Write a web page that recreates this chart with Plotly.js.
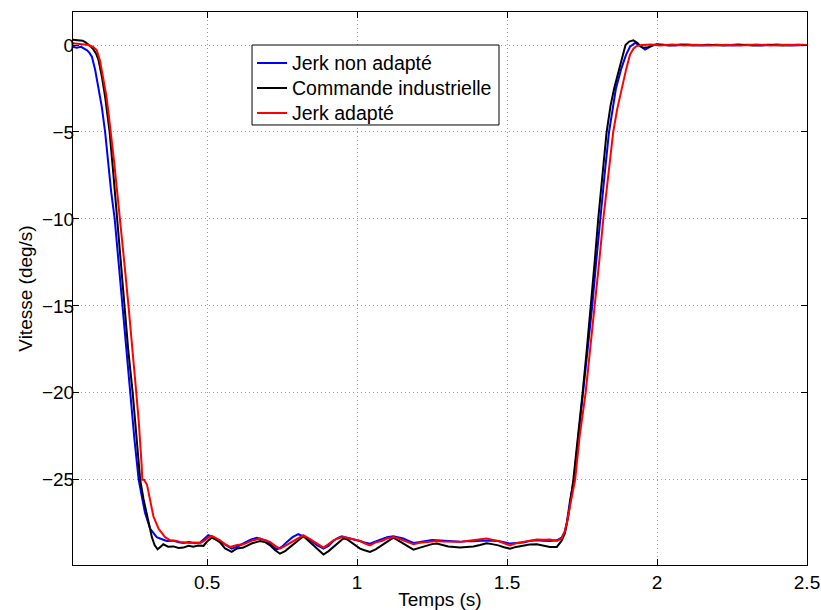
<!DOCTYPE html>
<html>
<head>
<meta charset="utf-8">
<script src="https://cdn.plot.ly/plotly-3.0.1.min.js"></script>
<style>html,body{margin:0;padding:0;background:#fff;}</style>
</head>
<body>
<div id="chart" style="width:821px;height:610px;"></div>
<script>
// Time (s) and speed (deg/s) samples
const tBlue = [
0.053,0.065,0.08,0.09,0.1,0.108,0.116,0.127,0.138,0.149,
0.16,0.17,0.18,0.192,0.204,0.217,0.23,0.243,0.258,0.272,
0.283,0.293,0.31,0.332,0.354,0.366,0.387,0.405,0.421,0.44,
0.46,0.477,0.49,0.504,0.52,0.538,0.56,0.582,0.6,0.621,
0.645,0.666,0.683,0.699,0.715,0.732,0.75,0.766,0.785,0.804,
0.822,0.843,0.865,0.888,0.905,0.921,0.935,0.949,0.966,0.99,
1.01,1.025,1.043,1.062,1.082,1.1,1.121,1.138,1.154,1.17,
1.188,1.21,1.232,1.25,1.266,1.285,1.304,1.325,1.343,1.365,
1.388,1.41,1.432,1.45,1.471,1.49,1.51,1.53,1.554,1.575,
1.599,1.62,1.643,1.666,1.682,1.692,1.699,1.71,1.723,1.738,
1.754,1.769,1.784,1.797,1.81,1.825,1.84,1.852,1.863,1.88,
1.897,1.91,1.927,1.94,1.96,1.975,1.988,2.02,2.06,2.1,
2.15,2.2,2.25,2.3,2.35,2.4,2.45,2.5];
const vBlue = [
-0.1,-0.15,-0.1,-0.2,-0.3,-0.45,-0.67,-1.44,-2.4,-3.55,
-5.0,-6.7,-8.4,-10.0,-12.4,-15.0,-17.5,-20.0,-22.7,-25.0,
-26.1,-26.9,-27.8,-28.3,-28.45,-28.52,-28.5,-28.6,-28.63,-28.58,
-28.65,-28.6,-28.4,-28.19,-28.3,-28.48,-28.75,-28.96,-28.85,-28.67,
-28.45,-28.33,-28.4,-28.5,-28.75,-29.01,-28.85,-28.57,-28.3,-28.13,
-28.25,-28.45,-28.75,-28.96,-28.8,-28.52,-28.35,-28.25,-28.33,-28.42,
-28.52,-28.6,-28.67,-28.55,-28.44,-28.3,-28.25,-28.3,-28.38,-28.5,
-28.63,-28.58,-28.52,-28.46,-28.48,-28.5,-28.52,-28.55,-28.57,-28.53,
-28.54,-28.5,-28.48,-28.5,-28.52,-28.6,-28.67,-28.63,-28.6,-28.52,
-28.48,-28.5,-28.52,-28.48,-28.33,-28.0,-27.5,-26.2,-25.0,-22.5,
-20.0,-17.5,-15.0,-12.5,-10.0,-7.5,-5.0,-3.6,-2.5,-1.4,
-0.55,-0.1,0.12,0.0,-0.26,-0.12,0.0,0.02,-0.03,0.03,
-0.02,0.02,-0.03,0.02,-0.02,0.03,-0.02,0.0];

const tBlack = [
0.053,0.07,0.085,0.095,0.104,0.113,0.121,0.13,0.138,0.149,
0.16,0.168,0.175,0.188,0.2,0.212,0.224,0.237,0.252,0.264,
0.277,0.288,0.299,0.308,0.316,0.325,0.335,0.345,0.354,0.37,
0.388,0.405,0.421,0.438,0.454,0.47,0.488,0.5,0.516,0.53,
0.543,0.56,0.582,0.6,0.621,0.65,0.677,0.695,0.71,0.727,
0.743,0.76,0.777,0.8,0.821,0.838,0.854,0.87,0.888,0.905,
0.921,0.94,0.954,0.966,0.99,1.01,1.025,1.043,1.062,1.082,
1.1,1.121,1.138,1.154,1.17,1.188,1.21,1.232,1.25,1.266,
1.285,1.304,1.325,1.343,1.365,1.388,1.41,1.432,1.45,1.471,
1.49,1.51,1.53,1.554,1.575,1.599,1.62,1.643,1.666,1.682,
1.693,1.705,1.721,1.737,1.752,1.766,1.78,1.792,1.804,1.818,
1.832,1.845,1.857,1.872,1.886,1.895,1.907,1.921,1.935,1.945,
1.954,1.97,1.988,2.0,2.04,2.08,2.12,2.17,2.22,2.27,
2.32,2.37,2.42,2.47,2.5];
const vBlack = [
0.3,0.28,0.25,0.15,0.05,-0.1,-0.25,-0.5,-0.86,-1.8,
-2.97,-4.0,-5.0,-7.5,-10.0,-12.5,-15.0,-17.5,-20.0,-22.5,
-25.0,-26.1,-26.9,-27.7,-28.3,-28.75,-29.0,-28.85,-28.71,-28.85,
-28.83,-28.92,-28.9,-28.8,-28.85,-28.78,-28.8,-28.55,-28.33,-28.45,
-28.6,-28.95,-29.15,-28.95,-28.9,-28.65,-28.52,-28.6,-28.77,-29.05,
-29.25,-29.1,-28.86,-28.5,-28.25,-28.5,-28.77,-29.05,-29.3,-29.1,
-28.86,-28.55,-28.38,-28.42,-28.7,-28.96,-29.05,-29.15,-29.0,-28.77,
-28.55,-28.33,-28.5,-28.67,-28.85,-29.02,-28.9,-28.77,-28.7,-28.67,
-28.75,-28.83,-28.86,-28.9,-28.86,-28.83,-28.75,-28.65,-28.7,-28.77,
-28.88,-28.96,-28.86,-28.77,-28.72,-28.71,-28.8,-28.86,-28.86,-28.5,
-28.07,-27.0,-25.0,-22.5,-20.0,-17.5,-15.0,-12.5,-10.0,-7.5,
-5.0,-3.5,-2.5,-1.5,-0.55,0.0,0.2,0.27,0.12,-0.08,
-0.16,-0.12,0.0,0.04,-0.02,0.03,-0.03,0.02,-0.02,0.03,
-0.02,0.02,-0.03,0.02,0.0];

const tRed = [
0.053,0.07,0.09,0.105,0.12,0.132,0.143,0.153,0.164,0.172,
0.179,0.19,0.2,0.21,0.224,0.238,0.252,0.264,0.272,0.278,
0.282,0.284,0.29,0.3,0.307,0.321,0.338,0.36,0.377,0.395,
0.41,0.43,0.443,0.46,0.477,0.493,0.505,0.516,0.53,0.543,
0.56,0.577,0.6,0.621,0.65,0.677,0.695,0.71,0.727,0.743,
0.76,0.777,0.8,0.821,0.838,0.854,0.87,0.888,0.905,0.921,
0.94,0.954,0.966,0.99,1.01,1.025,1.043,1.062,1.082,1.1,
1.121,1.138,1.154,1.17,1.188,1.21,1.232,1.25,1.266,1.285,
1.304,1.325,1.343,1.365,1.388,1.41,1.432,1.45,1.471,1.49,
1.51,1.53,1.554,1.575,1.599,1.62,1.643,1.666,1.682,1.692,
1.699,1.71,1.727,1.742,1.762,1.777,1.793,1.807,1.821,1.837,
1.854,1.867,1.882,1.897,1.91,1.922,1.932,1.95,1.98,2.01,
2.05,2.09,2.13,2.18,2.23,2.28,2.33,2.38,2.43,2.48,
2.5];
const vRed = [
0.1,0.08,0.05,0.0,-0.1,-0.29,-0.9,-1.8,-2.9,-4.0,
-5.0,-6.7,-8.4,-10.0,-12.5,-15.0,-17.5,-20.0,-21.6,-23.0,
-24.2,-25.0,-25.0,-25.3,-25.97,-27.1,-27.8,-28.3,-28.48,-28.5,
-28.57,-28.6,-28.63,-28.6,-28.63,-28.48,-28.3,-28.23,-28.35,-28.48,
-28.7,-28.86,-28.75,-28.71,-28.5,-28.38,-28.5,-28.57,-28.8,-28.96,
-28.8,-28.63,-28.35,-28.19,-28.35,-28.52,-28.7,-28.9,-28.7,-28.48,
-28.35,-28.29,-28.33,-28.45,-28.52,-28.65,-28.77,-28.6,-28.52,-28.38,
-28.29,-28.38,-28.48,-28.6,-28.71,-28.62,-28.57,-28.52,-28.52,-28.55,
-28.57,-28.55,-28.57,-28.52,-28.48,-28.42,-28.38,-28.45,-28.52,-28.65,
-28.77,-28.65,-28.57,-28.48,-28.44,-28.45,-28.44,-28.52,-28.38,-28.0,
-27.52,-26.5,-25.0,-22.5,-20.0,-17.5,-15.0,-12.5,-10.0,-7.5,
-5.0,-3.7,-2.5,-1.4,-0.55,-0.2,-0.06,0.0,0.03,-0.02,
0.03,-0.02,0.02,-0.03,0.02,-0.02,0.03,-0.02,0.02,-0.02,
0.0];

const seriesNames = ["Jerk non adapté", "Commande industrielle", "Jerk adapté"];
const seriesColors = ["#0000ff", "#000000", "#ff0000"];
const xTicks = [0.5, 1, 1.5, 2, 2.5];
const xTickText = ["0.5", "1", "1.5", "2", "2.5"];
const yTicks = [-25, -20, -15, -10, -5, 0];
const yTickText = ["\u221225", "\u221220", "\u221215", "\u221210", "\u22125", "0"];

const FONT = "Liberation Sans, Arial, Helvetica, sans-serif";
const tSeries = [tBlue, tBlack, tRed];
const vSeries = [vBlue, vBlack, vRed];

const traces = seriesNames.map((name, i) => ({
  x: tSeries[i], y: vSeries[i], name: name, type: "scatter", mode: "lines",
  line: {color: seriesColors[i], width: 2}
}));

// MATLAB-style boxed legend (paper coordinates)
const legBox = {x0: 0.2439, x1: 0.5804, y0: 0.7957, y1: 0.9403};
const legRowY = [0.9078, 0.8626, 0.8174];
const legLineX = [0.2507, 0.2916];
const legTextX = 0.2960;

const shapes = [{
  type: "rect", xref: "paper", yref: "paper",
  x0: legBox.x0, x1: legBox.x1, y0: legBox.y0, y1: legBox.y1,
  line: {color: "#000", width: 1}, fillcolor: "#fff", layer: "above"
}];
const annotations = [];
seriesNames.forEach((name, i) => {
  shapes.push({
    type: "line", xref: "paper", yref: "paper",
    x0: legLineX[0], x1: legLineX[1], y0: legRowY[i], y1: legRowY[i],
    line: {color: seriesColors[i], width: 2}, layer: "above"
  });
  annotations.push({
    xref: "paper", yref: "paper", x: legTextX, y: legRowY[i],
    xanchor: "left", yanchor: "middle", showarrow: false, text: name,
    font: {family: FONT, size: 19.5, color: "#000"}
  });
});

const axisCommon = {
  showline: true, linecolor: "#000", linewidth: 1, mirror: "ticks",
  ticks: "inside", ticklen: 6, tickcolor: "#000", tickwidth: 1,
  showgrid: true, gridcolor: "#9a9a9a", griddash: "1px,3px", gridwidth: 1,
  zeroline: false, automargin: false,
  tickfont: {family: FONT, size: 19, color: "#000"}
};

const layout = {
  width: 821, height: 610,
  margin: {l: 73, r: 14, t: 12, b: 45, pad: 0},
  paper_bgcolor: "#fff", plot_bgcolor: "#fff",
  font: {family: FONT, size: 19, color: "#000"},
  showlegend: false,
  shapes: shapes,
  annotations: annotations,
  xaxis: Object.assign({}, axisCommon, {
    range: [0.053, 2.5], tickmode: "array", tickvals: xTicks, ticktext: xTickText,
    title: {text: "Temps (s)", standoff: 1, font: {family: FONT, size: 19, color: "#000"}}
  }),
  yaxis: Object.assign({}, axisCommon, {
    range: [-29.9, 1.9], tickmode: "array", tickvals: yTicks, ticktext: yTickText,
    ticklabelstandoff: -6,
    title: {text: "Vitesse (deg/s)", standoff: 4, font: {family: FONT, size: 19, color: "#000"}}
  })
};

Plotly.newPlot("chart", traces, layout, {displayModeBar: false, staticPlot: true});
</script>
</body>
</html>
